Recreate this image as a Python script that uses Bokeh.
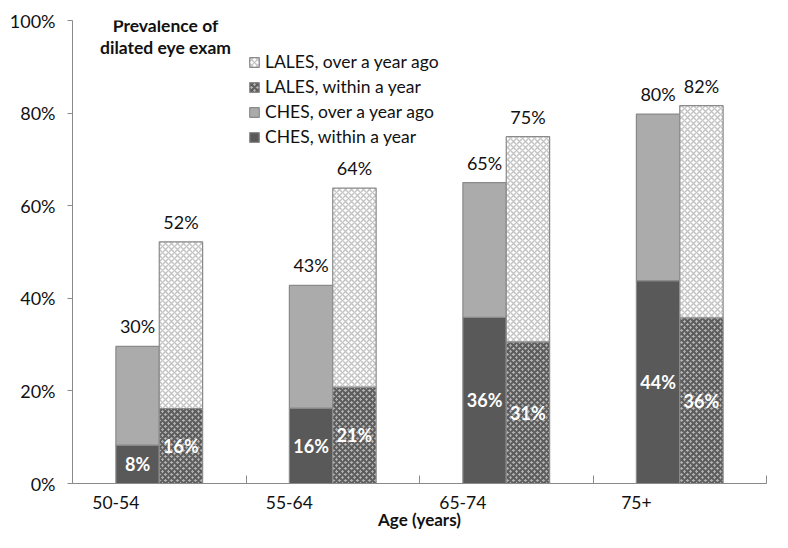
from bokeh.plotting import figure
from bokeh.models import FixedTicker, Legend, LegendItem, Label, ColumnDataSource, Range1d
from bokeh.embed import file_html
from bokeh.resources import INLINE
from bokeh.core.properties import value

# ---- data (percent) ----
age_groups = ["50-54", "55-64", "65-74", "75+"]
ches_within = [8.3, 16.3, 35.9, 43.8]
ches_over = [21.3, 26.5, 29.1, 36.0]
lales_within = [16.2, 20.8, 30.6, 35.8]
lales_over = [36.0, 43.0, 44.3, 45.8]
y_ticks = [0, 20, 40, 60, 80, 100]

FONT = "Lato"
n = len(age_groups)
centers = [i + 0.5 for i in range(n)]
ches_x = [c - 0.125 for c in centers]
lales_x = [c + 0.125 for c in centers]
ches_total = [a + b for a, b in zip(ches_within, ches_over)]
lales_total = [a + b for a, b in zip(lales_within, lales_over)]

p = figure(width=772, height=532, x_range=Range1d(0, n), y_range=Range1d(0, 100),
           output_backend="svg", toolbar_location=None,
           min_border_left=72, min_border_right=6, min_border_top=20, min_border_bottom=44)
p.outline_line_color = None
p.xgrid.visible = False
p.ygrid.visible = False
p.background_fill_color = "white"

edge = "#8a8a8a"
r_cw = p.vbar(x=ches_x, bottom=0, top=ches_within, width=0.25,
              fill_color="#595959", line_color=edge, line_width=1.2)
r_co = p.vbar(x=ches_x, bottom=ches_within, top=ches_total, width=0.25,
              fill_color="#ababab", line_color=edge, line_width=1.2)
r_lw = p.vbar(x=lales_x, bottom=0, top=lales_within, width=0.25,
              fill_color="#b4b4b4", line_color=edge, line_width=1.2,
              hatch_pattern="diagonal_cross", hatch_color="#5c5c5c",
              hatch_scale=6, hatch_weight=2)
r_lo = p.vbar(x=lales_x, bottom=lales_within, top=lales_total, width=0.25,
              fill_color="white", line_color=edge, line_width=1.2,
              hatch_pattern="diagonal_cross", hatch_color="#c4c4c4",
              hatch_scale=6, hatch_weight=1.5)

# total labels above the bars
tot_src = ColumnDataSource(dict(
    x=ches_x + lales_x,
    y=ches_total + lales_total,
    t=[f"{round(v)}%" for v in ches_total + lales_total]))
p.text(x="x", y="y", text="t", source=tot_src, y_offset=-9,
       text_align="center", text_baseline="bottom",
       text_font=value(FONT), text_font_size="18px", text_color="#111111")

# within-a-year labels inside bars
in_src = ColumnDataSource(dict(
    x=ches_x + lales_x,
    y=[v / 2 for v in ches_within + lales_within],
    t=[f"{round(v)}%" for v in ches_within + lales_within]))
p.text(x="x", y="y", text="t", source=in_src,
       text_align="center", text_baseline="middle",
       text_font=value(FONT), text_font_size="18px", text_font_style="bold",
       text_color="white")

# axes
yax = p.yaxis[0]
yax.ticker = FixedTicker(ticks=y_ticks)
yax.major_label_overrides = {t: f"{t}%" for t in y_ticks}
yax.axis_line_color = edge
yax.major_tick_line_color = edge
yax.major_tick_out = 5
yax.major_tick_in = 0
yax.minor_tick_line_color = None
yax.major_label_text_font = FONT
yax.major_label_text_font_size = "18px"
yax.major_label_text_color = "#111111"
yax.major_label_standoff = 12

xax = p.xaxis[0]
label_pos = [c - 0.25 for c in centers]
xax.ticker = FixedTicker(ticks=label_pos, minor_ticks=list(range(n + 1)))
xax.major_label_overrides = {pos: g for pos, g in zip(label_pos, age_groups)}
xax.major_label_text_align = "left"
xax.axis_line_color = edge
xax.major_tick_line_color = None
xax.minor_tick_line_color = edge
xax.minor_tick_in = 8
xax.minor_tick_out = 0
xax.major_label_text_font = FONT
xax.major_label_text_font_size = "17.5px"
xax.major_label_text_color = "#111111"
xax.major_label_standoff = 6
xax.axis_label = "Age (years)"
xax.axis_label_text_font = FONT
xax.axis_label_text_font_size = "17px"
xax.axis_label_text_font_style = "bold"
xax.axis_label_text_color = "#111111"
xax.axis_label_standoff = -3

# legend
legend = Legend(items=[
    LegendItem(label="LALES, over a year ago", renderers=[r_lo]),
    LegendItem(label="LALES, within a year", renderers=[r_lw]),
    LegendItem(label="CHES, over a year ago", renderers=[r_co]),
    LegendItem(label="CHES, within a year", renderers=[r_cw]),
], location=(176, 336), orientation="vertical")
legend.glyph_width = 12
legend.glyph_height = 12
legend.label_height = 20
legend.spacing = 4
legend.padding = 0
legend.margin = 0
legend.label_standoff = 5
legend.label_text_font = FONT
legend.label_text_font_size = "17.5px"
legend.label_text_color = "#111111"
legend.background_fill_alpha = 0
legend.border_line_color = None
p.add_layout(legend)

title1 = Label(x=0.536, y=98.9, text="Prevalence of",
               text_align="center", text_baseline="middle",
               text_font=FONT, text_font_size="17.5px", text_font_style="bold",
               text_color="#111111")
title2 = Label(x=0.536, y=94.2, text="dilated eye exam",
               text_align="center", text_baseline="middle",
               text_font=FONT, text_font_size="17.5px", text_font_style="bold",
               text_color="#111111")
p.add_layout(title1)
p.add_layout(title2)

open("out.html", "w").write(file_html(p, INLINE))
